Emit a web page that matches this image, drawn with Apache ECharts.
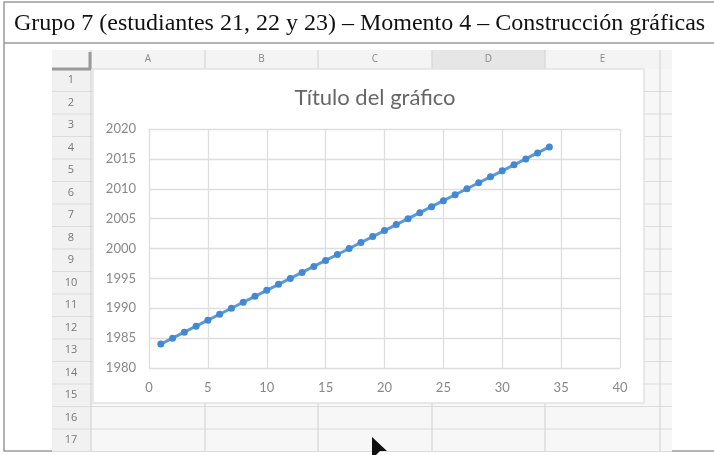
<!DOCTYPE html>
<html>
<head>
<meta charset="utf-8">
<script src="https://cdn.jsdelivr.net/npm/echarts@6/dist/echarts.min.js"></script>
<style>
  html, body { margin: 0; padding: 0; background: #fff; }
  #chart { width: 714px; height: 455px; }
</style>
</head>
<body>
<div id="chart"></div>
<script>
// Series data: x position and year value
const xValues = [1, 2, 3, 4, 5, 6, 7, 8, 9, 10, 11, 12, 13, 14, 15, 16, 17,
                 18, 19, 20, 21, 22, 23, 24, 25, 26, 27, 28, 29, 30, 31, 32, 33, 34];
const yValues = [1984, 1985, 1986, 1987, 1988, 1989, 1990, 1991, 1992, 1993, 1994, 1995,
                 1996, 1997, 1998, 1999, 2000, 2001, 2002, 2003, 2004, 2005, 2006, 2007,
                 2008, 2009, 2010, 2011, 2012, 2013, 2014, 2015, 2016, 2017];
const columnLetters = ['A', 'B', 'C', 'D', 'E'];
const rowNumbers = [1, 2, 3, 4, 5, 6, 7, 8, 9, 10, 11, 12, 13, 14, 15, 16, 17];
const headingText = 'Grupo 7 (estudiantes 21, 22 y 23) \u2013 Momento 4 \u2013 Construcci\u00f3n gr\u00e1ficas';
const chartTitle = 'T\u00edtulo del gr\u00e1fico';

const points = xValues.map((x, i) => [x, yValues[i]]);

// Spreadsheet geometry
const sheetLeft = 52, rowHeadRight = 91, sheetRight = 672;
const headTop = 50, headBottom = 69, rowH = 22.5;
const colEdges = [91, 205, 318, 432, 545, 660];
const sheetBottom = headBottom + rowH * rowNumbers.length;

const bg = [];
// page frame and heading rule
bg.push({ type: 'rect', shape: { x: 4, y: 2, width: 720, height: 449 }, style: { fill: '#fff', stroke: '#9a9a9a', lineWidth: 1.5 }, z: -20 });
bg.push({ type: 'line', shape: { x1: 4, y1: 43, x2: 714, y2: 43 }, style: { stroke: '#9a9a9a', lineWidth: 1.5 }, z: -19 });
bg.push({ type: 'text', style: { text: headingText, x: 14, y: 24, textVerticalAlign: 'middle', font: '24px "Liberation Serif", "Times New Roman", serif', fill: '#111' }, z: -19 });

// sheet cells area
bg.push({ type: 'rect', shape: { x: rowHeadRight, y: headBottom, width: sheetRight - rowHeadRight, height: sheetBottom - headBottom }, style: { fill: '#f7f7f7' }, z: -18 });
// column header band
bg.push({ type: 'rect', shape: { x: sheetLeft, y: headTop, width: sheetRight - sheetLeft, height: headBottom - headTop }, style: { fill: '#f4f4f4' }, z: -18 });
bg.push({ type: 'rect', shape: { x: colEdges[3], y: headTop, width: colEdges[4] - colEdges[3], height: headBottom - headTop }, style: { fill: '#e6e6e6' }, z: -17 });
// row header band
bg.push({ type: 'rect', shape: { x: sheetLeft, y: headBottom, width: rowHeadRight - sheetLeft, height: sheetBottom - headBottom }, style: { fill: '#f1f1f1' }, z: -18 });

// row lines and numbers
rowNumbers.forEach((n, i) => {
  const yTop = headBottom + rowH * i;
  bg.push({ type: 'line', shape: { x1: sheetLeft, y1: yTop + rowH, x2: sheetRight, y2: yTop + rowH }, style: { stroke: '#dcdcdc', lineWidth: 1.2 }, z: -16 });
  bg.push({ type: 'text', style: { text: String(n), x: 71, y: yTop + rowH / 2, textAlign: 'center', textVerticalAlign: 'middle', font: '11px "Open Sans", sans-serif', fill: '#777' }, z: -15 });
});
// column lines and letters
colEdges.forEach((x) => {
  bg.push({ type: 'line', shape: { x1: x, y1: headTop, x2: x, y2: sheetBottom }, style: { stroke: '#d6d6d6', lineWidth: 1.2 }, z: -16 });
});
columnLetters.forEach((c, i) => {
  bg.push({ type: 'text', style: { text: c, x: (colEdges[i] + colEdges[i + 1]) / 2, y: 59, textAlign: 'center', textVerticalAlign: 'middle', font: '10px "Open Sans", sans-serif', fill: '#888' }, z: -15 });
});
// corner cell marks
bg.push({ type: 'line', shape: { x1: sheetLeft, y1: headBottom, x2: rowHeadRight, y2: headBottom }, style: { stroke: '#9a9a9a', lineWidth: 3 }, z: -14 });
bg.push({ type: 'line', shape: { x1: rowHeadRight - 1, y1: headTop + 2, x2: rowHeadRight - 1, y2: headBottom }, style: { stroke: '#9a9a9a', lineWidth: 3 }, z: -14 });

// white chart panel
bg.push({ type: 'rect', shape: { x: 93, y: 69, width: 551, height: 334 }, style: { fill: '#fff', stroke: '#e2e2e2', lineWidth: 1.5 }, z: -12 });

// mouse pointer
const pointer = { type: 'polygon', shape: { points: [[372, 437], [372, 455], [376, 455], [380, 451], [387, 451]] }, style: { fill: '#111' }, z: 50 };

const chart = echarts.init(document.getElementById('chart'), null, { renderer: 'canvas' });
chart.setOption({
  animation: false,
  backgroundColor: '#fff',
  title: {
    text: chartTitle,
    left: 370,
    top: 82,
    textAlign: 'center',
    textStyle: { fontFamily: 'Lato', fontSize: 22, fontWeight: 'normal', color: '#666' }
  },
  grid: { left: 149, top: 129, right: 94, bottom: 87, containLabel: false },
  xAxis: {
    type: 'value', min: 0, max: 40, interval: 5,
    axisLine: { show: false },
    axisTick: { show: false },
    axisLabel: { color: '#888', fontFamily: 'Lato', fontSize: 13, margin: 13 },
    splitLine: { show: true, lineStyle: { color: '#dedede', width: 1.3 } }
  },
  yAxis: {
    type: 'value', min: 1980, max: 2020, interval: 5,
    axisLine: { show: false },
    axisTick: { show: false },
    axisLabel: { color: '#888', fontFamily: 'Lato', fontSize: 13, margin: 13, formatter: (v) => String(v) },
    splitLine: { show: true, lineStyle: { color: '#dedede', width: 1.3 } }
  },
  series: [{
    type: 'line',
    data: points,
    symbol: 'circle',
    symbolSize: 7,
    lineStyle: { color: '#5b9bd5', width: 3 },
    itemStyle: { color: '#4189d4' }
  }],
  graphic: { elements: bg.concat([pointer]) }
});
</script>
</body>
</html>
